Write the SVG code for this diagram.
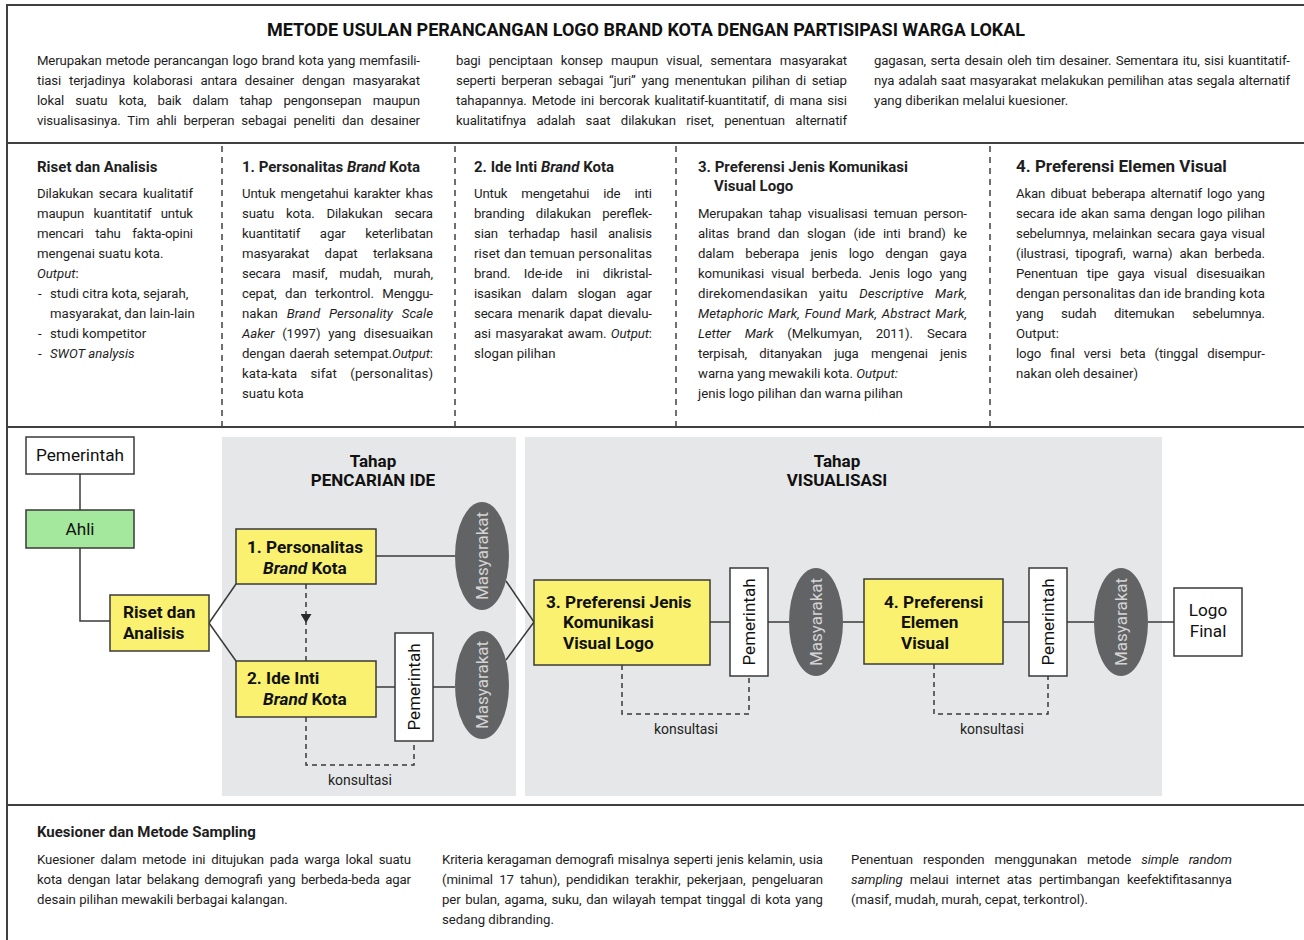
<svg xmlns="http://www.w3.org/2000/svg" width="1304" height="940" viewBox="0 0 1304 940">
<defs>
<style>
text{font-family:Roboto,"Liberation Sans",sans-serif;fill:#1e1e1e}
.title{font-size:18px;font-weight:bold;fill:#111}
.b{font-size:13.2px}
.h{font-size:15px;font-weight:bold}
.h2{font-size:17px;font-weight:bold}
.i{font-style:italic}
.frame{stroke:#404040;stroke-width:2;fill:none}
.sep{stroke:#404040;stroke-width:1.5;stroke-dasharray:6 5;fill:none}
.panel{fill:#e6e7e8}
.box{stroke:#3a3a3a;stroke-width:1.5}
.yel{fill:#f9f16f}
.wht{fill:#fff}
.grn{fill:#a3e89d}
.ell{fill:#626365}
.nt{font-size:17.2px;font-weight:bold;fill:#111}
.nr{font-size:17.2px;fill:#111}
.vt{font-size:17px;fill:#111}
.vm{font-size:17px;fill:#d4d4d4}
.stage{font-size:17px;font-weight:bold;fill:#111}
.kon{font-size:14px;fill:#222}
.ln{stroke:#3a3a3a;stroke-width:1.5;fill:none}
.dash{stroke:#3a3a3a;stroke-width:1.5;fill:none;stroke-dasharray:5 4}
</style>
<marker id="ah" viewBox="0 0 9 11" refX="9" refY="5.5" markerWidth="9" markerHeight="11" markerUnits="userSpaceOnUse" orient="auto">
<path d="M0,0 L9,5.5 L0,11 z" fill="#2a2a2a"/>
</marker>
</defs>

<rect x="0" y="0" width="1304" height="940" fill="#fff"/>

<g id="frame">
<line class="frame" x1="7" y1="5" x2="1304" y2="5"/>
<line class="frame" x1="7" y1="4" x2="7" y2="940"/>
<line class="frame" x1="7" y1="143" x2="1304" y2="143"/>
<line class="frame" x1="7" y1="427" x2="1304" y2="427"/>
<line class="frame" x1="7" y1="805" x2="1304" y2="805"/>
<line class="sep" x1="222" y1="146" x2="222" y2="426"/>
<line class="sep" x1="455" y1="146" x2="455" y2="426"/>
<line class="sep" x1="676" y1="146" x2="676" y2="426"/>
<line class="sep" x1="990" y1="146" x2="990" y2="426"/>
</g>

<g id="title">
<text class="title" x="646" y="36" text-anchor="middle">METODE USULAN PERANCANGAN LOGO BRAND KOTA DENGAN PARTISIPASI WARGA LOKAL</text>
</g>

<g id="intro">
<text class="b" x="37" y="65" word-spacing="0.9" textLength="383" lengthAdjust="spacing">Merupakan metode perancangan logo brand kota yang memfasili-</text>
<text class="b" x="37" y="85" word-spacing="4.7" textLength="383" lengthAdjust="spacing">tiasi terjadinya kolaborasi antara desainer dengan masyarakat</text>
<text class="b" x="37" y="105" word-spacing="8.1" textLength="383" lengthAdjust="spacing">lokal suatu kota, baik dalam tahap pengonsepan maupun</text>
<text class="b" x="37" y="125" word-spacing="3.7" textLength="383" lengthAdjust="spacing">visualisasinya. Tim ahli berperan sebagai peneliti dan desainer</text>
<text class="b" x="456" y="65" word-spacing="5.1" textLength="391" lengthAdjust="spacing">bagi penciptaan konsep maupun visual, sementara masyarakat</text>
<text class="b" x="456" y="85" word-spacing="2.6" textLength="391" lengthAdjust="spacing">seperti berperan sebagai “juri” yang menentukan pilihan di setiap</text>
<text class="b" x="456" y="105" word-spacing="2" textLength="391" lengthAdjust="spacing">tahapannya. Metode ini bercorak kualitatif-kuantitatif, di mana sisi</text>
<text class="b" x="456" y="125" word-spacing="7.2" textLength="391" lengthAdjust="spacing">kualitatifnya adalah saat dilakukan riset, penentuan alternatif</text>
<text class="b" x="874" y="65" word-spacing="1.3" textLength="416" lengthAdjust="spacing">gagasan, serta desain oleh tim desainer. Sementara itu, sisi kuantitatif-</text>
<text class="b" x="874" y="85" word-spacing="0.8" textLength="416" lengthAdjust="spacing">nya adalah saat masyarakat melakukan pemilihan atas segala alternatif</text>
<text class="b" x="874" y="105">yang diberikan melalui kuesioner.</text>
</g>

<g id="col-riset">
<text class="h" x="37" y="172">Riset dan Analisis</text>
<text class="b" x="37" y="198" word-spacing="2.5" textLength="156" lengthAdjust="spacing">Dilakukan secara kualitatif</text>
<text class="b" x="37" y="218" word-spacing="6.2" textLength="156" lengthAdjust="spacing">maupun kuantitatif untuk</text>
<text class="b" x="37" y="238" word-spacing="8.4" textLength="156" lengthAdjust="spacing">mencari tahu fakta-opini</text>
<text class="b" x="37" y="258">mengenai suatu kota.</text>
<text class="b" x="37" y="278"><tspan class="i">Output</tspan>:</text>
<text class="b" x="38" y="298">-</text>
<text class="b" x="50" y="298">studi citra kota, sejarah,</text>
<text class="b" x="50" y="318">masyarakat, dan lain-lain</text>
<text class="b" x="38" y="338">-</text>
<text class="b" x="50" y="338">studi kompetitor</text>
<text class="b" x="38" y="358">-</text>
<text class="b i" x="50" y="358">SWOT analysis</text>
</g>

<g id="col-personalitas">
<text class="h" x="242" y="172">1. Personalitas <tspan class="i">Brand</tspan> Kota</text>
<text class="b" x="242" y="198" word-spacing="2" textLength="191" lengthAdjust="spacing">Untuk mengetahui karakter khas</text>
<text class="b" x="242" y="218" word-spacing="8.7" textLength="191" lengthAdjust="spacing">suatu kota. Dilakukan secara</text>
<text class="b" x="242" y="238" word-spacing="16.6" textLength="191" lengthAdjust="spacing">kuantitatif agar keterlibatan</text>
<text class="b" x="242" y="258" word-spacing="12.4" textLength="191" lengthAdjust="spacing">masyarakat dapat terlaksana</text>
<text class="b" x="242" y="278" word-spacing="8.6" textLength="191" lengthAdjust="spacing">secara masif, mudah, murah,</text>
<text class="b" x="242" y="298" word-spacing="5.4" textLength="191" lengthAdjust="spacing">cepat, dan terkontrol. Menggu-</text>
<text class="b" x="242" y="318" word-spacing="5.7" textLength="191" lengthAdjust="spacing">nakan <tspan class="i">Brand Personality Scale</tspan></text>
<text class="b" x="242" y="338" word-spacing="4.5" textLength="191" lengthAdjust="spacing"><tspan class="i">Aaker</tspan> (1997) yang disesuaikan</text>
<text class="b" x="242" y="358" word-spacing="1.4" textLength="191" lengthAdjust="spacing">dengan daerah setempat.<tspan class="i">Output</tspan>:</text>
<text class="b" x="242" y="378" word-spacing="9.9" textLength="191" lengthAdjust="spacing">kata-kata sifat (personalitas)</text>
<text class="b" x="242" y="398">suatu kota</text>
</g>

<g id="col-ide">
<text class="h" x="474" y="172">2. Ide Inti <tspan class="i">Brand</tspan> Kota</text>
<text class="b" x="474" y="198" word-spacing="10.8" textLength="178" lengthAdjust="spacing">Untuk mengetahui ide inti</text>
<text class="b" x="474" y="218" word-spacing="8.3" textLength="178" lengthAdjust="spacing">branding dilakukan pereflek-</text>
<text class="b" x="474" y="238" word-spacing="7.5" textLength="178" lengthAdjust="spacing">sian terhadap hasil analisis</text>
<text class="b" x="474" y="258" word-spacing="0.3" textLength="178" lengthAdjust="spacing">riset dan temuan personalitas</text>
<text class="b" x="474" y="278" word-spacing="10.4" textLength="178" lengthAdjust="spacing">brand. Ide-ide ini dikristal-</text>
<text class="b" x="474" y="298" word-spacing="7.1" textLength="178" lengthAdjust="spacing">isasikan dalam slogan agar</text>
<text class="b" x="474" y="318" word-spacing="2.1" textLength="178" lengthAdjust="spacing">secara menarik dapat dievalu-</text>
<text class="b" x="474" y="338" word-spacing="1.3" textLength="178" lengthAdjust="spacing">asi masyarakat awam. <tspan class="i">Output</tspan>:</text>
<text class="b" x="474" y="358">slogan pilihan</text>
</g>

<g id="col-komunikasi">
<text class="h" x="698" y="172">3. Preferensi Jenis Komunikasi</text>
<text class="h" x="714" y="191">Visual Logo</text>
<text class="b" x="698" y="218" word-spacing="3.2" textLength="269" lengthAdjust="spacing">Merupakan tahap visualisasi temuan person-</text>
<text class="b" x="698" y="238" word-spacing="4.6" textLength="269" lengthAdjust="spacing">alitas brand dan slogan (ide inti brand) ke</text>
<text class="b" x="698" y="258" word-spacing="8.3" textLength="269" lengthAdjust="spacing">dalam beberapa jenis logo dengan gaya</text>
<text class="b" x="698" y="278" word-spacing="4.1" textLength="269" lengthAdjust="spacing">komunikasi visual berbeda. Jenis logo yang</text>
<text class="b" x="698" y="298" word-spacing="8.1" textLength="269" lengthAdjust="spacing">direkomendasikan yaitu <tspan class="i">Descriptive Mark,</tspan></text>
<text class="b i" x="698" y="318" word-spacing="1.5" textLength="269" lengthAdjust="spacing">Metaphoric Mark, Found Mark, Abstract Mark,</text>
<text class="b" x="698" y="338" word-spacing="10.7" textLength="269" lengthAdjust="spacing"><tspan class="i">Letter Mark</tspan> (Melkumyan, 2011). Secara</text>
<text class="b" x="698" y="358" word-spacing="9.2" textLength="269" lengthAdjust="spacing">terpisah, ditanyakan juga mengenai jenis</text>
<text class="b" x="698" y="378">warna yang mewakili kota. <tspan class="i">Output:</tspan></text>
<text class="b" x="698" y="398">jenis logo pilihan dan warna pilihan</text>
</g>

<g id="col-elemen">
<text class="h2" x="1016" y="172">4. Preferensi Elemen Visual</text>
<text class="b" x="1016" y="198" word-spacing="2" textLength="249" lengthAdjust="spacing">Akan dibuat beberapa alternatif logo yang</text>
<text class="b" x="1016" y="218" word-spacing="1.4" textLength="249" lengthAdjust="spacing">secara ide akan sama dengan logo pilihan</text>
<text class="b" x="1016" y="238" word-spacing="1.5" textLength="249" lengthAdjust="spacing">sebelumnya, melainkan secara gaya visual</text>
<text class="b" x="1016" y="258" word-spacing="3.9" textLength="249" lengthAdjust="spacing">(ilustrasi, tipografi, warna) akan berbeda.</text>
<text class="b" x="1016" y="278" word-spacing="6" textLength="249" lengthAdjust="spacing">Penentuan tipe gaya visual disesuaikan</text>
<text class="b" x="1016" y="298" textLength="249" lengthAdjust="spacing">dengan personalitas dan ide branding kota</text>
<text class="b" x="1016" y="318" word-spacing="14.5" textLength="249" lengthAdjust="spacing">yang sudah ditemukan sebelumnya.</text>
<text class="b" x="1016" y="338">Output:</text>
<text class="b" x="1016" y="358" word-spacing="5.9" textLength="249" lengthAdjust="spacing">logo final versi beta (tinggal disempur-</text>
<text class="b" x="1016" y="378">nakan oleh desainer)</text>
</g>

<g id="panels">
<rect class="panel" x="222" y="437" width="294" height="359"/>
<rect class="panel" x="525" y="437" width="637" height="359"/>
<text class="stage" x="373" y="467" text-anchor="middle">Tahap</text>
<text class="stage" x="373" y="486" text-anchor="middle">PENCARIAN IDE</text>
<text class="stage" x="837" y="467" text-anchor="middle">Tahap</text>
<text class="stage" x="837" y="486" text-anchor="middle">VISUALISASI</text>
</g>

<g id="connectors">
<line class="ln" x1="80" y1="474" x2="80" y2="510"/>
<polyline class="ln" points="80,548 80,621 110,621"/>
<line class="ln" x1="209" y1="623" x2="236" y2="584"/>
<line class="ln" x1="209" y1="623" x2="236" y2="661"/>
<path class="dash" d="M306,584 V623 V661" marker-mid="url(#ah)"/>
<line class="ln" x1="376" y1="556" x2="455" y2="556"/>
<line class="ln" x1="376" y1="687" x2="395" y2="687"/>
<line class="ln" x1="433" y1="687" x2="455" y2="687"/>
<line class="ln" x1="506" y1="581" x2="534" y2="622"/>
<line class="ln" x1="506" y1="660" x2="534" y2="622"/>
<path class="dash" d="M306,717 V765 H414 V741"/>
<line class="ln" x1="710" y1="622" x2="730" y2="622"/>
<line class="ln" x1="768" y1="622" x2="789" y2="622"/>
<line class="ln" x1="843" y1="622" x2="864" y2="622"/>
<line class="ln" x1="1003" y1="622" x2="1029" y2="622"/>
<line class="ln" x1="1067" y1="622" x2="1094" y2="622"/>
<line class="ln" x1="1148" y1="622" x2="1174" y2="622"/>
<path class="dash" d="M622,665 V714 H749 V676"/>
<path class="dash" d="M934,664 V714 H1048 V676"/>
<text class="kon" x="360" y="785" text-anchor="middle">konsultasi</text>
<text class="kon" x="686" y="734" text-anchor="middle">konsultasi</text>
<text class="kon" x="992" y="734" text-anchor="middle">konsultasi</text>
</g>

<g id="node-pemerintah-top">
<rect class="box wht" x="26" y="437" width="108" height="37"/>
<text class="nr" x="80" y="461" text-anchor="middle">Pemerintah</text>
</g>
<g id="node-ahli">
<rect class="box grn" x="26" y="510" width="108" height="38"/>
<text class="nr" x="80" y="535" text-anchor="middle">Ahli</text>
</g>
<g id="node-riset">
<rect class="box yel" x="110" y="595" width="99" height="56"/>
<text class="nt" x="123" y="618">Riset dan</text>
<text class="nt" x="123" y="639">Analisis</text>
</g>
<g id="node-personalitas">
<rect class="box yel" x="236" y="529" width="140" height="55"/>
<text class="nt" x="247" y="553">1. Personalitas</text>
<text class="nt" x="263" y="574"><tspan class="i">Brand</tspan> Kota</text>
</g>
<g id="node-ide">
<rect class="box yel" x="236" y="661" width="140" height="56"/>
<text class="nt" x="247" y="684">2. Ide Inti</text>
<text class="nt" x="263" y="705"><tspan class="i">Brand</tspan> Kota</text>
</g>
<g id="node-pemerintah-1">
<rect class="box wht" x="395" y="633" width="38" height="108"/>
<text class="vt" transform="translate(414,687) rotate(-90)" text-anchor="middle" dominant-baseline="central">Pemerintah</text>
</g>
<g id="node-masyarakat-1">
<ellipse class="ell" cx="482" cy="556" rx="27" ry="54"/>
<text class="vm" transform="translate(482,556) rotate(-90)" text-anchor="middle" dominant-baseline="central">Masyarakat</text>
</g>
<g id="node-masyarakat-2">
<ellipse class="ell" cx="482" cy="685" rx="27" ry="54"/>
<text class="vm" transform="translate(482,685) rotate(-90)" text-anchor="middle" dominant-baseline="central">Masyarakat</text>
</g>
<g id="node-komunikasi">
<rect class="box yel" x="534" y="580" width="176" height="85"/>
<text class="nt" x="546" y="608">3. Preferensi Jenis</text>
<text class="nt" x="563" y="628">Komunikasi</text>
<text class="nt" x="563" y="649">Visual Logo</text>
</g>
<g id="node-pemerintah-2">
<rect class="box wht" x="730" y="568" width="38" height="108"/>
<text class="vt" transform="translate(749,622) rotate(-90)" text-anchor="middle" dominant-baseline="central">Pemerintah</text>
</g>
<g id="node-masyarakat-3">
<ellipse class="ell" cx="816" cy="622" rx="27" ry="54"/>
<text class="vm" transform="translate(816,622) rotate(-90)" text-anchor="middle" dominant-baseline="central">Masyarakat</text>
</g>
<g id="node-elemen">
<rect class="box yel" x="864" y="579" width="139" height="85"/>
<text class="nt" x="884" y="608">4. Preferensi</text>
<text class="nt" x="901" y="628">Elemen</text>
<text class="nt" x="901" y="649">Visual</text>
</g>
<g id="node-pemerintah-3">
<rect class="box wht" x="1029" y="568" width="38" height="108"/>
<text class="vt" transform="translate(1048,622) rotate(-90)" text-anchor="middle" dominant-baseline="central">Pemerintah</text>
</g>
<g id="node-masyarakat-4">
<ellipse class="ell" cx="1121" cy="622" rx="27" ry="54"/>
<text class="vm" transform="translate(1121,622) rotate(-90)" text-anchor="middle" dominant-baseline="central">Masyarakat</text>
</g>
<g id="node-logo-final">
<rect class="box wht" x="1174" y="588" width="68" height="68"/>
<text class="nr" x="1208" y="616" text-anchor="middle">Logo</text>
<text class="nr" x="1208" y="637" text-anchor="middle">Final</text>
</g>

<g id="kuesioner">
<text class="h" x="37" y="837">Kuesioner dan Metode Sampling</text>
<text class="b" x="37" y="864" word-spacing="2.7" textLength="374" lengthAdjust="spacing">Kuesioner dalam metode ini ditujukan pada warga lokal suatu</text>
<text class="b" x="37" y="884" word-spacing="2.2" textLength="374" lengthAdjust="spacing">kota dengan latar belakang demografi yang berbeda-beda agar</text>
<text class="b" x="37" y="904">desain pilihan mewakili berbagai kalangan.</text>
<text class="b" x="442" y="864" word-spacing="0.7" textLength="381" lengthAdjust="spacing">Kriteria keragaman demografi misalnya seperti jenis kelamin, usia</text>
<text class="b" x="442" y="884" word-spacing="3.1" textLength="381" lengthAdjust="spacing">(minimal 17 tahun), pendidikan terakhir, pekerjaan, pengeluaran</text>
<text class="b" x="442" y="904" word-spacing="1.6" textLength="381" lengthAdjust="spacing">per bulan, agama, suku, dan wilayah tempat tinggal di kota yang</text>
<text class="b" x="442" y="924">sedang dibranding.</text>
<text class="b" x="851" y="864" word-spacing="6.9" textLength="381" lengthAdjust="spacing">Penentuan responden menggunakan metode <tspan class="i">simple random</tspan></text>
<text class="b" x="851" y="884" word-spacing="4" textLength="381" lengthAdjust="spacing"><tspan class="i">sampling</tspan> melaui internet atas pertimbangan keefektifitasannya</text>
<text class="b" x="851" y="904">(masif, mudah, murah, cepat, terkontrol).</text>
</g>
</svg>
